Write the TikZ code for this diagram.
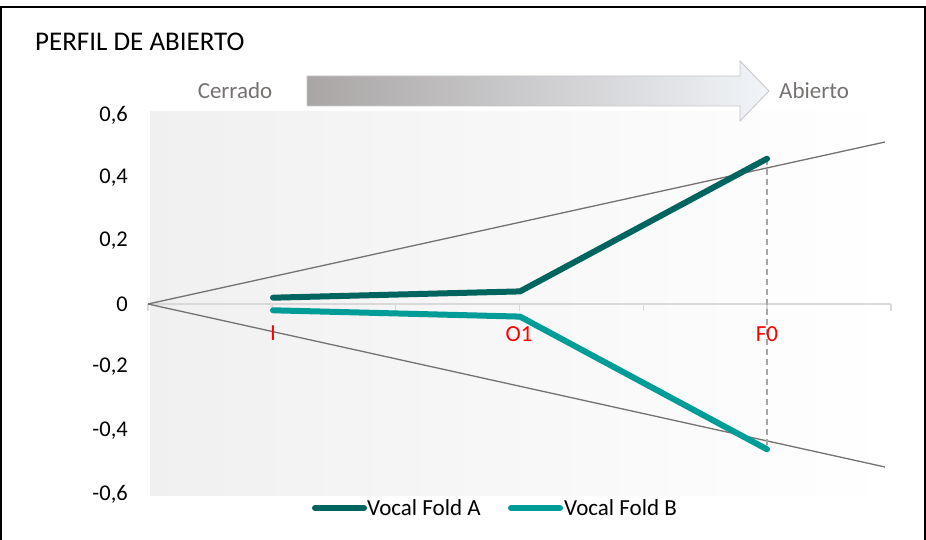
\documentclass[tikz,border=0pt]{standalone}
\usepackage{fontspec}
\setmainfont{Carlito}
\usetikzlibrary{calc}
\definecolor{foldA}{HTML}{00645F}
\definecolor{foldB}{HTML}{009C97}
\definecolor{guide}{HTML}{767171}
\definecolor{axisgray}{HTML}{D9D9D9}
\definecolor{arrowL}{HTML}{A9A5A5}
\definecolor{arrowR}{HTML}{F1F4F8}
\definecolor{plotbg}{HTML}{F0F0F0}
\tikzset{
  ticklbl/.style={anchor=east, inner sep=0pt, font=\fontsize{22.5}{26}\selectfont},
  catlbl/.style={anchor=north, inner sep=0pt, text=red, font=\fontsize{23}{26}\selectfont},
  sidelbl/.style={inner sep=0pt, text=guide, font=\fontsize{23}{26}\selectfont},
  leglbl/.style={anchor=west, inner sep=0pt, font=\fontsize{23}{26}\selectfont},
  seriesA/.style={draw=foldA, line width=6pt, line cap=round, line join=round},
  seriesB/.style={draw=foldB, line width=6pt, line cap=round, line join=round},
  guideline/.style={draw=guide, line width=1.3pt},
  dropline/.style={draw=gray!70, line width=1.3pt, dash pattern=on 6pt off 4pt},
}
\begin{document}
\begin{tikzpicture}[x=1pt,y=-1pt]
\useasboundingbox (0,0) rectangle (926,540);
% frame
\draw[black, line width=1.5pt] (1,548) -- (1,7) -- (925,7) -- (925,548);
% plot area background
\shade[left color=plotbg, right color=white] (150,112) rectangle (890,495);
% title
\node[anchor=west, inner sep=0pt, font=\fontsize{27}{30}\selectfont] (title) at (35,42) {PERFIL DE ABIERTO};
% arrow
\shade[left color=arrowL, right color=arrowR] (307,76) -- (740,76) -- (740,61) -- (769,91) -- (740,121) -- (740,106) -- (307,106) -- cycle;
\draw[gray!45, line width=0.8pt] (307,76) -- (740,76) -- (740,61) -- (769,91) -- (740,121) -- (740,106) -- (307,106) -- cycle;
\node[sidelbl] (cerr) at (235,91) {Cerrado};
\node[sidelbl, anchor=west] (abie) at (779,91) {Abierto};
% y tick labels
\node[ticklbl] (y6) at (128,115) {0,6};
\node[ticklbl] (y4) at (128,178) {0,4};
\node[ticklbl] (y2) at (128,241) {0,2};
\node[ticklbl] (y0) at (128,304) {0};
\node[ticklbl] (ym2) at (128,367) {-0,2};
\node[ticklbl] (ym4) at (128,431) {-0,4};
\node[ticklbl] (ym6) at (128,494) {-0,6};
% axis
\coordinate (o) at (148,304);
\coordinate (xe) at (891,304);
\draw[axisgray, line width=1.5pt] (o) -- (xe);
\foreach \i in {0,...,6} {
  \draw[axisgray, line width=1.5pt] ($(148,304)+(\i*123.83,0)$) -- ++(0,7);
}
% guide lines
\coordinate (gu) at (885,142);
\coordinate (gd) at (885,467);
\draw[guideline] (o) -- (gu);
\draw[guideline] (o) -- (gd);
% data points
\coordinate (a1) at (273,297.7);
\coordinate (a2) at (520,291.4);
\coordinate (a3) at (767,158.7);
\coordinate (b1) at (273,310.3);
\coordinate (b2) at (520,316.6);
\coordinate (b3) at (767,449.3);
% drop line
\draw[dropline] (a3) -- (b3);
% series
\draw[seriesA] (a1) -- (a2) -- (a3);
\draw[seriesB] (b1) -- (b2) -- (b3);
% category labels
\node[catlbl] (cI) at (273,326) {I};
\node[catlbl] (cO) at (519,326) {O1};
\node[catlbl] (cF) at (767,326) {F0};
% legend
\coordinate (la1) at (315,508);
\coordinate (la2) at (364,508);
\coordinate (lb1) at (511,508);
\coordinate (lb2) at (560,508);
\draw[seriesA] (la1) -- (la2);
\draw[seriesB] (lb1) -- (lb2);
\node[leglbl] (legA) at (367,508) {Vocal Fold A};
\node[leglbl] (legB) at (564,508) {Vocal Fold B};
\end{tikzpicture}
\end{document}
